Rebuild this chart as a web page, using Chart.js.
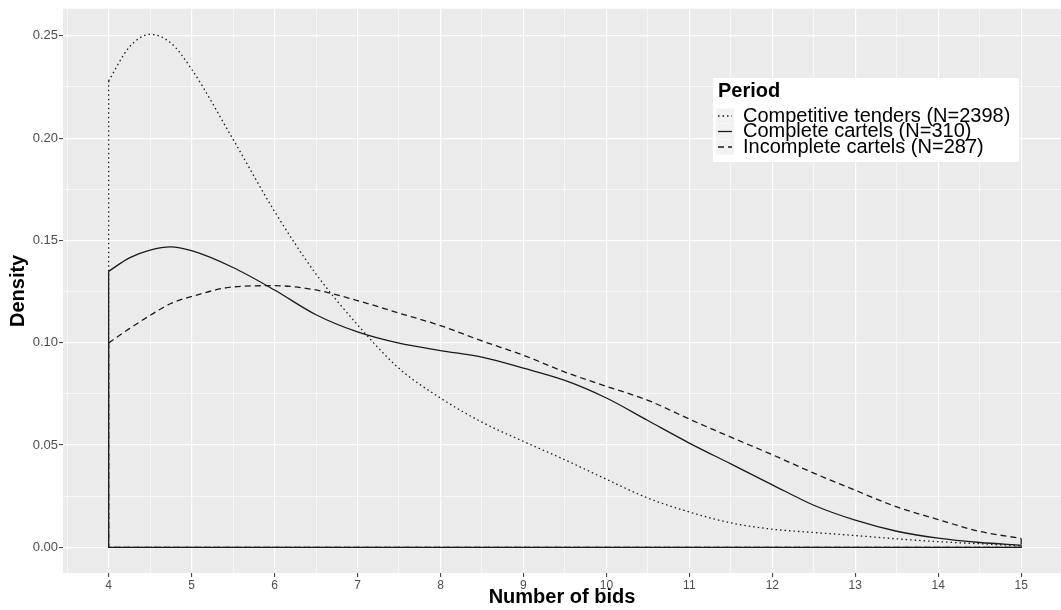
<!DOCTYPE html>
<html>
<head>
<meta charset="utf-8">
<script src="https://cdn.jsdelivr.net/npm/chart.js@4.4.1/dist/chart.umd.min.js"></script>
<style>
  html, body { margin: 0; padding: 0; background: #ffffff; overflow: hidden; }
  #c { display: block; }
</style>
</head>
<body>
<canvas id="c" width="1061" height="610"></canvas>
<script>
// ---- data ----
const bids = [4, 4.25, 4.5, 4.75, 5, 5.5, 6, 6.5, 7, 7.5, 8, 8.5, 9, 9.5, 10, 10.5, 11, 11.5, 12, 12.5, 13, 13.5, 14, 14.5, 15];
const competitive = [0.228, 0.2445, 0.2507, 0.2465, 0.2337, 0.1994, 0.1642, 0.1336, 0.1088, 0.0875, 0.0730, 0.0612, 0.0518, 0.0428, 0.0333, 0.0241, 0.0173, 0.0120, 0.0089, 0.0073, 0.0058, 0.0042, 0.0028, 0.0018, 0.0008];
const complete = [0.1349, 0.1415, 0.1453, 0.1469, 0.1450, 0.1368, 0.1258, 0.1137, 0.1053, 0.0998, 0.0962, 0.0930, 0.0876, 0.0816, 0.0730, 0.0620, 0.0510, 0.0408, 0.0306, 0.0206, 0.0133, 0.0079, 0.0045, 0.0024, 0.0011];
const incomplete = [0.0999, 0.1069, 0.1134, 0.1192, 0.1226, 0.1273, 0.1279, 0.1258, 0.1206, 0.1145, 0.1084, 0.1009, 0.0939, 0.0857, 0.0787, 0.0719, 0.0627, 0.0539, 0.0453, 0.0363, 0.0279, 0.0198, 0.0136, 0.0078, 0.0044];
const seriesLabels = ['Competitive tenders (N=2398)', 'Complete cartels (N=310)', 'Incomplete cartels (N=287)'];
const legendTitle = 'Period';
const xTitle = 'Number of bids';
const yTitle = 'Density';

// ---- styles ----
const FONT = '"Liberation Sans", Arial, Helvetica, sans-serif';
const LINE = '#1a1a1a';
const LW = 1.3;
const dashes = [[1.5, 3], [], [6, 4]];
const seriesValues = [competitive, complete, incomplete];

const datasets = [];
seriesValues.forEach((vals, i) => {
  datasets.push({
    label: seriesLabels[i],
    data: bids.map((x, k) => ({ x: x, y: vals[k] })),
    borderColor: LINE, borderWidth: LW, borderDash: dashes[i],
    pointRadius: 0, fill: false, cubicInterpolationMode: 'monotone'
  });
  const n = bids.length - 1;
  datasets.push({
    label: seriesLabels[i] + ' outline',
    data: [{ x: bids[0], y: vals[0] }, { x: bids[0], y: 0 }, { x: bids[n], y: 0 }, { x: bids[n], y: vals[n] }],
    borderColor: LINE, borderWidth: LW, borderDash: dashes[i],
    pointRadius: 0, fill: false, tension: 0
  });
});

const isWhole = (v, step) => Math.abs(v / step - Math.round(v / step)) < 1e-6;

const panelBg = {
  id: 'panelBg',
  beforeDraw(chart) {
    const { ctx, chartArea: a } = chart;
    ctx.save();
    ctx.fillStyle = '#ffffff';
    ctx.fillRect(0, 0, chart.width, chart.height);
    ctx.fillStyle = '#EBEBEB';
    ctx.fillRect(a.left, a.top, a.right - a.left, a.bottom - a.top);
    ctx.restore();
  }
};

const legendBox = {
  id: 'legendBox',
  afterDraw(chart) {
    const ctx = chart.ctx;
    ctx.save();
    ctx.fillStyle = '#ffffff';
    ctx.fillRect(713, 78, 306, 84);
    ctx.fillStyle = '#000000';
    ctx.textBaseline = 'middle';
    ctx.textAlign = 'left';
    ctx.font = 'bold 20px ' + FONT;
    ctx.fillText(legendTitle, 718, 91);
    const rows = [116, 131.5, 147];
    ctx.font = '20px ' + FONT;
    seriesLabels.forEach((lab, i) => {
      const y = rows[i];
      ctx.fillStyle = '#F2F2F2';
      ctx.fillRect(716, y - 7.5, 18, 15);
      ctx.strokeStyle = LINE;
      ctx.lineWidth = LW;
      ctx.setLineDash(dashes[i]);
      ctx.beginPath();
      ctx.moveTo(718, y);
      ctx.lineTo(732, y);
      ctx.stroke();
      ctx.setLineDash([]);
      ctx.fillStyle = '#000000';
      ctx.fillText(lab, 743, y);
    });
    ctx.restore();
  }
};

new Chart(document.getElementById('c'), {
  type: 'line',
  data: { datasets: datasets },
  plugins: [panelBg, legendBox],
  options: {
    responsive: false,
    animation: false,
    devicePixelRatio: 1,
    layout: { padding: { top: 7, left: 0, right: 0, bottom: 0 } },
    plugins: { legend: { display: false }, tooltip: { enabled: false } },
    scales: {
      x: {
        type: 'linear',
        min: 3.45, max: 15.48,
        afterFit(s) { s.height = 37; },
        border: { display: false },
        grid: {
          color: '#ffffff',
          lineWidth: (c) => (c.tick && isWhole(c.tick.value, 1)) ? 1.2 : 0.6,
          drawTicks: true, tickLength: 4, tickWidth: 1,
          tickColor: (c) => (c.tick && isWhole(c.tick.value, 1)) ? '#333333' : 'rgba(0,0,0,0)'
        },
        ticks: {
          stepSize: 0.5, includeBounds: false, autoSkip: false, maxRotation: 0, padding: 1,
          color: '#4D4D4D', font: { family: FONT, size: 12 },
          callback: (v) => isWhole(v, 1) ? String(Math.round(v)) : ''
        },
        title: {
          display: true, text: xTitle, color: '#000000',
          font: { family: FONT, size: 20, weight: 'bold' },
          padding: { top: 0, bottom: 1 }
        }
      },
      y: {
        type: 'linear',
        min: -0.0125, max: 0.2632,
        afterFit(s) { s.width = 63; },
        border: { display: false },
        grid: {
          color: '#ffffff',
          lineWidth: (c) => (c.tick && isWhole(c.tick.value, 0.05)) ? 1.2 : 0.6,
          drawTicks: true, tickLength: 4, tickWidth: 1,
          tickColor: (c) => (c.tick && isWhole(c.tick.value, 0.05)) ? '#333333' : 'rgba(0,0,0,0)'
        },
        ticks: {
          stepSize: 0.025, includeBounds: false, autoSkip: false, padding: 1,
          color: '#4D4D4D', font: { family: FONT, size: 13 },
          callback: (v) => isWhole(v, 0.05) ? v.toFixed(2) : ''
        },
        title: {
          display: true, text: yTitle, color: '#000000',
          font: { family: FONT, size: 20, weight: 'bold' },
          padding: { top: 6, bottom: 0 }
        }
      }
    }
  }
});
</script>
</body>
</html>
